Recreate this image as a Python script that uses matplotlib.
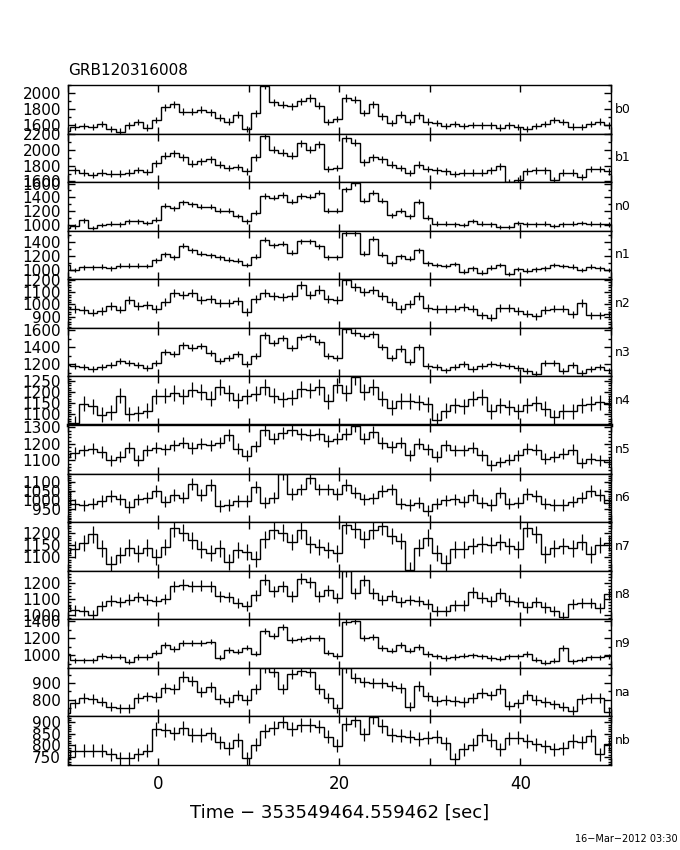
import numpy as np
import matplotlib
matplotlib.use('Agg')
import matplotlib.pyplot as plt
from matplotlib.ticker import MultipleLocator, FixedLocator

# time binning of the light curves (s, relative to trigger)
t_start = -10.75
bin_size = 1.0

detectors = ['b0', 'b1', 'n0', 'n1', 'n2', 'n3', 'n4', 'n5',
             'n6', 'n7', 'n8', 'n9', 'na', 'nb']

# count rates (counts/s), one value per 1 s bin
b0 = [1533, 1587, 1595, 1579, 1620, 1558, 1525, 1600, 1641, 1575, 1666, 1827, 1864, 1769, 1769, 1794,
      1761, 1695, 1649, 1732, 1558, 1748, 2092, 1885, 1856, 1835, 1897, 1939, 1844, 1645, 1678,
      1939, 1918, 1753, 1864, 1711, 1628, 1732, 1641, 1724, 1649, 1628, 1595, 1620, 1595, 1608,
      1600, 1600, 1575, 1600, 1579, 1554, 1595, 1620, 1670, 1641, 1587, 1579, 1620, 1649, 1600]
b1 = [1739, 1739, 1713, 1684, 1713, 1700, 1700, 1713, 1747, 1718, 1832, 1926, 1960, 1909, 1824, 1854,
      1883, 1811, 1768, 1781, 1726, 1909, 2185, 2002, 1968, 1926, 2087, 2002, 2075, 1756, 1768,
      2151, 2096, 1841, 1909, 1883, 1811, 1768, 1705, 1811, 1756, 1739, 1726, 1696, 1713, 1713,
      1713, 1739, 1790, 1594, 1620, 1726, 1739, 1739, 1620, 1713, 1713, 1654, 1756, 1756, 1726]
n0 = [959, 983, 1071, 959, 998, 1022, 1012, 1056, 1056, 1032, 1080, 1280, 1241, 1328, 1304, 1265,
      1265, 1207, 1207, 1134, 1056, 1182, 1421, 1396, 1435, 1338, 1421, 1411, 1469, 1207, 1207,
      1518, 1605, 1353, 1469, 1353, 1144, 1207, 1129, 1338, 1110, 1022, 1022, 1012, 998, 1061,
      1022, 1012, 973, 973, 1032, 1012, 1012, 1022, 988, 1012, 1022, 1032, 1022, 1012, 1012]
n1 = [1072, 1001, 1039, 1039, 1048, 1025, 1062, 1062, 1062, 1058, 1142, 1226, 1180, 1344, 1283, 1236,
      1212, 1180, 1151, 1133, 1072, 1189, 1433, 1353, 1377, 1245, 1409, 1409, 1339, 1180, 1180,
      1531, 1531, 1236, 1447, 1222, 1095, 1198, 1165, 1283, 1095, 1072, 1058, 1086, 978, 1025,
      964, 1034, 1072, 945, 1015, 992, 1011, 1025, 1072, 1058, 1048, 1001, 1048, 1025, 1001]
n2 = [980, 961, 953, 934, 945, 985, 958, 1034, 985, 993, 961, 1021, 1094, 1075, 1096, 1040,
      1042, 1012, 1012, 1028, 939, 1042, 1096, 1069, 1061, 1067, 1156, 1075, 1121, 1048, 1040,
      1197, 1143, 1102, 1115, 1067, 1021, 961, 1002, 1067, 972, 961, 961, 966, 980, 966,
      912, 893, 972, 972, 945, 926, 904, 953, 966, 966, 920, 1012, 912, 912, 920]
n3 = [1190, 1178, 1171, 1143, 1171, 1190, 1237, 1218, 1190, 1163, 1218, 1347, 1327, 1425, 1398, 1414,
      1335, 1241, 1276, 1327, 1210, 1300, 1543, 1453, 1512, 1394, 1523, 1531, 1465, 1300, 1280,
      1613, 1574, 1535, 1555, 1406, 1280, 1386, 1229, 1406, 1178, 1171, 1131, 1171, 1202, 1151,
      1178, 1202, 1190, 1178, 1163, 1124, 1092, 1218, 1218, 1124, 1190, 1100, 1151, 1171, 1131]
n4 = [1061, 1061, 1147, 1136, 1098, 1109, 1184, 1101, 1104, 1116, 1180, 1184, 1195, 1180, 1211, 1199,
      1169, 1222, 1196, 1162, 1181, 1192, 1222, 1184, 1166, 1174, 1214, 1207, 1222, 1157, 1230,
      1195, 1267, 1199, 1222, 1169, 1128, 1159, 1159, 1154, 1144, 1074, 1116, 1139, 1135, 1169,
      1177, 1112, 1139, 1131, 1112, 1139, 1150, 1124, 1086, 1112, 1112, 1139, 1147, 1154, 1147]
n5 = [1121, 1145, 1161, 1171, 1151, 1101, 1121, 1177, 1101, 1161, 1177, 1167, 1192, 1208, 1175, 1202,
      1192, 1208, 1256, 1171, 1127, 1185, 1283, 1232, 1266, 1283, 1262, 1256, 1262, 1218, 1232,
      1262, 1307, 1232, 1272, 1206, 1181, 1208, 1131, 1202, 1167, 1121, 1192, 1161, 1161, 1177,
      1131, 1070, 1090, 1104, 1131, 1171, 1165, 1111, 1121, 1141, 1165, 1084, 1111, 1101, 1090]
n6 = [1044, 974, 968, 978, 992, 1020, 1002, 959, 1002, 1011, 1048, 989, 1026, 1011, 1085, 1026,
      1082, 965, 970, 992, 992, 1070, 983, 1011, 1145, 1033, 1057, 1119, 1057, 1057, 1030,
      1082, 1039, 1002, 1007, 1048, 1057, 978, 970, 983, 937, 978, 996, 1002, 989, 1026,
      983, 970, 1039, 978, 983, 1033, 1020, 978, 970, 970, 989, 1011, 1048, 1026, 983]
n7 = [1119, 1133, 1160, 1195, 1137, 1071, 1108, 1140, 1116, 1140, 1101, 1142, 1219, 1202, 1170, 1133,
      1119, 1137, 1082, 1129, 1122, 1092, 1174, 1211, 1202, 1164, 1211, 1153, 1142, 1129, 1116,
      1233, 1215, 1174, 1211, 1229, 1188, 1167, 1049, 1140, 1181, 1119, 1078, 1133, 1133, 1147,
      1156, 1151, 1164, 1147, 1133, 1219, 1195, 1112, 1137, 1147, 1137, 1164, 1112, 1151, 1160]
n8 = [1054, 1026, 1022, 995, 1054, 1089, 1079, 1095, 1112, 1095, 1085, 1100, 1179, 1189, 1179, 1183,
      1179, 1116, 1110, 1074, 1054, 1122, 1221, 1148, 1179, 1116, 1227, 1206, 1116, 1154, 1106,
      1275, 1135, 1219, 1135, 1093, 1120, 1079, 1093, 1087, 1066, 1024, 1024, 1058, 1058, 1141,
      1108, 1083, 1135, 1089, 1079, 1045, 1079, 1045, 1024, 983, 1066, 1072, 1072, 1041, 1129]
n9 = [1011, 941, 941, 941, 992, 984, 984, 925, 980, 980, 1031, 1122, 1071, 1141, 1141, 1141,
      1161, 972, 1059, 1043, 1090, 1019, 1287, 1228, 1334, 1177, 1189, 1200, 1200, 1031, 992,
      1393, 1409, 1204, 1212, 1086, 1055, 1118, 1055, 1094, 1015, 988, 968, 980, 996, 1000,
      988, 968, 960, 988, 988, 1015, 948, 909, 937, 1086, 929, 948, 976, 976, 988]
na = [719, 779, 809, 805, 789, 759, 749, 749, 809, 819, 815, 868, 864, 938, 912, 844,
      878, 805, 785, 829, 799, 864, 988, 964, 864, 952, 972, 968, 864, 809, 749,
      988, 928, 908, 898, 898, 884, 868, 759, 884, 819, 793, 799, 793, 785, 809,
      839, 825, 864, 765, 779, 829, 797, 785, 773, 759, 733, 805, 809, 809, 729]
nb = [744, 776, 776, 776, 776, 761, 744, 744, 761, 776, 871, 867, 852, 874, 845, 845,
      852, 813, 787, 823, 744, 802, 862, 874, 903, 871, 888, 888, 881, 838, 799,
      894, 910, 848, 924, 885, 845, 842, 838, 828, 833, 838, 809, 741, 784, 802,
      845, 823, 784, 830, 833, 819, 804, 796, 784, 787, 819, 813, 842, 761, 804]

rates = [b0, b1, n0, n1, n2, n3, n4, n5, n6, n7, n8, n9, na, nb]

# y range of each panel, labelled tick values and minor tick step
ylims = [(1500, 2100), (1590, 2210), (920, 1620), (870, 1560), (810, 1205), (1060, 1630),
         (1051, 1270), (1020, 1315), (875, 1145), (1045, 1245), (970, 1278), (850, 1425),
         (700, 990), (715, 925)]
ylabels = [[1600, 1800, 2000], [1600, 1800, 2000, 2200], [1000, 1200, 1400, 1600],
           [1000, 1200, 1400], [900, 1000, 1100, 1200], [1200, 1400, 1600],
           [1100, 1150, 1200, 1250], [1100, 1200, 1300], [950, 1000, 1050, 1100],
           [1100, 1150, 1200], [1000, 1100, 1200], [1000, 1200, 1400],
           [800, 900], [750, 800, 850, 900]]
yminor = [100, 100, 100, 100, 20, 100, 10, 20, 10, 10, 20, 100, 50, 10]

fig, axes = plt.subplots(len(detectors), 1, figsize=(6.8, 8.5), dpi=100, sharex=True)
fig.subplots_adjust(left=0.1, right=0.8985, top=0.9, bottom=0.1, hspace=0)

for ax, name, r, (lo, hi), labs, mnr in zip(axes, detectors, rates, ylims, ylabels, yminor):
    r = np.asarray(r, dtype=float)
    edges = t_start + bin_size * np.arange(len(r) + 1)
    centers = edges[:-1] + bin_size / 2
    err = np.sqrt(r * bin_size) / bin_size

    ax.stairs(r, edges, baseline=None, color='k', lw=1.0)
    ax.errorbar(centers, r, yerr=err, fmt='none', ecolor='k', elinewidth=0.9, capsize=0)

    ax.set_xlim(-10, 50)
    ax.set_ylim(lo, hi)
    ax.yaxis.set_major_locator(FixedLocator(labs))
    ax.yaxis.set_minor_locator(MultipleLocator(mnr))
    ax.xaxis.set_major_locator(MultipleLocator(20))
    ax.xaxis.set_minor_locator(MultipleLocator(10))
    ax.tick_params(which='both', direction='in', left=True, right=True, top=True, bottom=True,
                   width=1.0, labelsize=11)
    ax.tick_params(axis='y', which='major', length=5, pad=5)
    ax.tick_params(axis='y', which='minor', length=2.5)
    ax.tick_params(axis='x', which='both', length=5)
    for s in ax.spines.values():
        s.set_linewidth(1.0)
    ax.text(1.008, 0.5, name, transform=ax.transAxes, fontsize=9, va='center', ha='left')

# the n4/n5 boundary is drawn heavier in the original
axes[6].spines['bottom'].set_linewidth(2.5)

axes[-1].tick_params(axis='x', pad=7, labelsize=12)

fig.text(0.1, 0.9176, 'GRB120316008', fontsize=11, va='center', ha='left')
fig.text(0.5, 0.044, 'Time \u2212 353549464.559462 [sec]', fontsize=13, ha='center', va='center')
fig.text(0.997, 0.013, '16\u2212Mar\u22122012 03:30', fontsize=7, ha='right', va='center')

fig.savefig('out.png', dpi=100)
